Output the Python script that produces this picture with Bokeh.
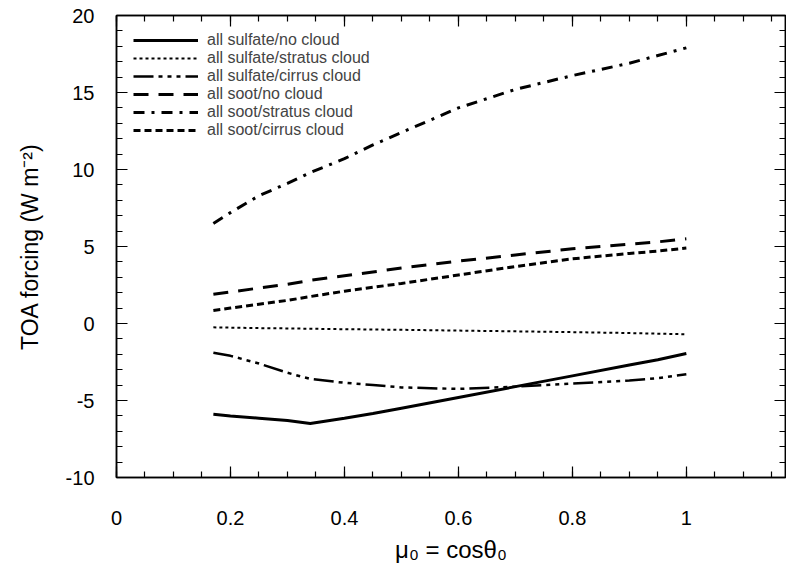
from bokeh.plotting import figure
from bokeh.models import FixedTicker, LinearAxis, Legend, LegendItem, Range1d
from bokeh.embed import file_html
from bokeh.resources import INLINE

# ---- data ----
mu0 = [0.17, 0.2, 0.25, 0.3, 0.34, 0.4, 0.45, 0.5, 0.6, 0.7, 0.8, 0.9, 0.95, 1.0]
sulfate_no_cloud = [-5.9, -6.0, -6.15, -6.3, -6.5, -6.15, -5.85, -5.5, -4.8, -4.1, -3.4, -2.7, -2.35, -1.95]
sulfate_stratus = [-0.25, -0.27, -0.3, -0.32, -0.34, -0.37, -0.39, -0.41, -0.46, -0.51, -0.56, -0.62, -0.66, -0.7]
sulfate_cirrus = [-1.9, -2.1, -2.6, -3.2, -3.6, -3.85, -4.0, -4.15, -4.25, -4.1, -3.9, -3.7, -3.55, -3.3]
soot_no_cloud = [1.9, 2.05, 2.3, 2.55, 2.8, 3.1, 3.35, 3.6, 4.05, 4.45, 4.85, 5.15, 5.3, 5.5]
soot_stratus = [6.5, 7.2, 8.3, 9.1, 9.8, 10.7, 11.6, 12.4, 14.0, 15.2, 16.1, 16.9, 17.4, 17.9]
soot_cirrus = [0.85, 1.0, 1.25, 1.5, 1.75, 2.1, 2.35, 2.6, 3.15, 3.7, 4.2, 4.55, 4.7, 4.9]

series_labels = ["all sulfate/no cloud", "all sulfate/stratus cloud", "all sulfate/cirrus cloud",
                 "all soot/no cloud", "all soot/stratus cloud", "all soot/cirrus cloud"]

x_ticks = [0, 0.2, 0.4, 0.6, 0.8, 1.0]
x_tick_labels = ["0", "0.2", "0.4", "0.6", "0.8", "1"]
y_ticks = [-10, -5, 0, 5, 10, 15, 20]
y_tick_labels = ["-10", "-5", "0", "5", "10", "15", "20"]

FONT = "Liberation Sans"

p = figure(width=786, height=566,
           x_range=Range1d(0, 1.174), y_range=Range1d(-10, 20),
           output_backend="svg", toolbar_location=None,
           min_border_left=116, min_border_right=1, min_border_top=15, min_border_bottom=89,
           background_fill_color="white", border_fill_color="white")
p.grid.visible = False
p.outline_line_color = "black"
p.outline_line_width = 1.5

x_minor = [i * 0.05 for i in range(0, 24)]
y_minor = list(range(-10, 21))


def style_axis(ax, ticks, minor, labels=None, show=True):
    ax.ticker = FixedTicker(ticks=ticks, minor_ticks=minor)
    ax.axis_line_color = "black"
    ax.axis_line_width = 1.5
    ax.major_tick_in = 11
    ax.major_tick_out = 0
    ax.minor_tick_in = 6
    ax.minor_tick_out = 0
    ax.major_tick_line_color = "black"
    ax.minor_tick_line_color = "black"
    ax.major_tick_line_width = 1.2
    ax.minor_tick_line_width = 1.2
    if show:
        ax.major_label_overrides = {t: l for t, l in zip(ticks, labels)}
        ax.major_label_text_font = FONT
        ax.major_label_text_font_size = "20px"
        ax.major_label_text_color = "black"
        ax.axis_label_text_font = FONT
        ax.axis_label_text_font_size = "23px"
        ax.axis_label_text_font_style = "normal"
        ax.axis_label_text_color = "black"
    else:
        ax.major_label_overrides = {t: "" for t in ticks}
        ax.major_label_standoff = 0


xa = p.xaxis[0]
style_axis(xa, x_ticks, x_minor, x_tick_labels)
xa.axis_label = "μ₀ = cosθ₀"
xa.axis_label_text_font_size = "24px"
xa.major_label_standoff = 33
xa.axis_label_standoff = 8

ya = p.yaxis[0]
style_axis(ya, y_ticks, y_minor, y_tick_labels)
ya.axis_label = "TOA forcing (W m⁻²)"
ya.major_label_standoff = 22
ya.axis_label_standoff = 20

top_ax = LinearAxis()
style_axis(top_ax, x_ticks, x_minor, show=False)
p.add_layout(top_ax, "above")
right_ax = LinearAxis()
style_axis(right_ax, y_ticks, y_minor, show=False)
p.add_layout(right_ax, "right")

data = [sulfate_no_cloud, sulfate_stratus, sulfate_cirrus, soot_no_cloud, soot_stratus, soot_cirrus]
dashes = ["solid", "3 3", "20 5 4 5 4 5 4 5", "15 10", "11 7 3 7", "7 4"]
widths = [3, 2, 2.5, 3, 3, 3]

items = []
for lab, ys, d, w in zip(series_labels, data, dashes, widths):
    r = p.line(mu0, ys, line_color="black", line_width=w, line_dash=d)
    items.append(LegendItem(label=lab, renderers=[r]))

legend = Legend(items=items, location=(17, 338),
                label_text_font=FONT, label_text_font_size="16px",
                glyph_width=65, glyph_height=18, label_height=18,
                label_standoff=9, spacing=0, padding=0, margin=0,
                border_line_color=None, background_fill_alpha=0)
p.add_layout(legend)

open("out.html", "w").write(file_html(p, INLINE))
